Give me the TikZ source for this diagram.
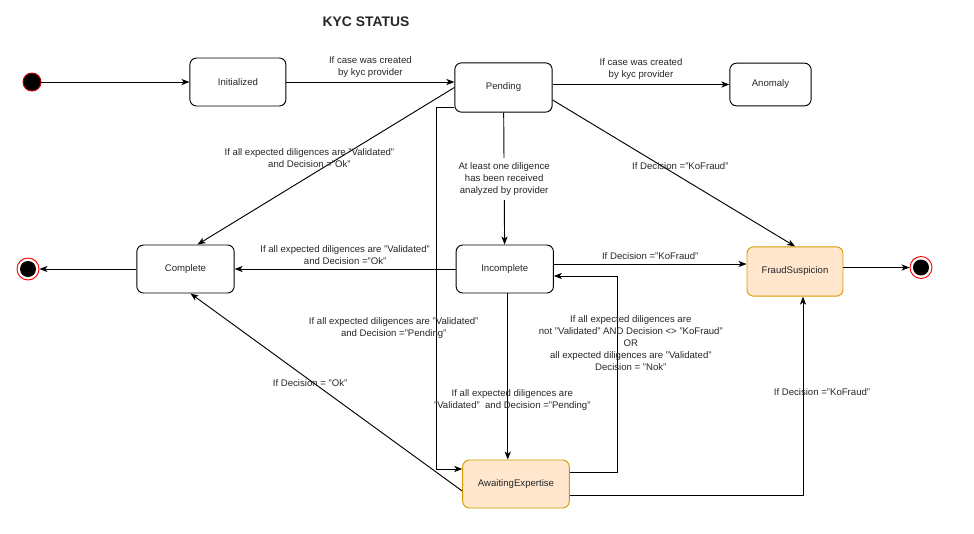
\documentclass[tikz,border=0pt]{standalone}
\usepackage{fontspec}
\setmainfont{Liberation Sans}
\usepackage{tikz}
\usetikzlibrary{arrows,arrows.meta,calc,positioning,shapes}
\definecolor{fraudfill}{HTML}{FFE6CC}
\definecolor{fraudline}{HTML}{D79B00}
\definecolor{textgray}{HTML}{262626}

\begin{document}
\begin{tikzpicture}[>={Stealth[length=6pt,width=4.6pt,inset=1.6pt]},x=0.75pt,y=-0.75pt,line width=0.7pt,font=\fontsize{7.2}{9}\selectfont,text=textgray]
	\tikzstyle{state} = [draw, rectangle, rounded corners=5pt, minimum height=36pt, minimum width=72pt]
	\tikzstyle{fraudstate} = [state, fill=fraudfill, draw=fraudline]
	\tikzstyle{startstate} = [draw=red!75!black, fill=black, circle, minimum size=13.5pt, inner sep=0pt]
	\tikzstyle{finalstate} = [draw=red, fill=white, circle, minimum size=16.5pt, inner sep=0pt, path picture={\fill[black] (path picture bounding box.center) circle (6pt);}]

	\useasboundingbox (0,0) rectangle (974,533);

	\node [font=\bfseries\fontsize{10.4}{12}\selectfont] (title) at (366,22) {KYC STATUS};

	\node [startstate] (start) at (32,82) {};
	\node [state, right = 111pt of start] (init) {Initialized};
	\node [state, minimum width=73pt, minimum height=37pt] (pend) at (503.5,87.5) {Pending};
	\node [state, minimum width=61pt, minimum height=32pt] (anom) at (770.5,84.5) {Anomaly};
	\node [state, minimum width=73pt] (compl) at (185.5,269) {Complete};
	\node [state, minimum width=73pt, right = 165.75pt of compl] (incompl) {Incomplete};
	\node [fraudstate, minimum height=37pt] (fraud) at (795,271.5) {FraudSuspicion};
	\node [fraudstate, minimum width=80pt] (await) at (516,484) {AwaitingExpertise};
	\node [finalstate] (endl) at (28,269) {};
	\node [finalstate] (endr) at (921,267.5) {};

	\draw [->] (start) -- (init);
	\draw [->] (init) --node[above, align=center]{If case was created\\by kyc provider} (init -| pend.west);
	\draw [->] (pend.east |- anom) --node[above, align=center]{If case was created\\by kyc provider} (anom);
	\draw [->] (pend.west) --node[pos=0.45, xshift=-22pt, align=center]{If all expected diligences are "Validated"\\and Decision ="Ok"} ([xshift=9pt]compl.north);
	\draw [->] ([yshift=-9.4pt]pend.east) --node[pos=0.45, xshift=14pt]{If Decision ="KoFraud"} (fraud.north);
	\draw [->] (pend) --node[fill=white, align=center]{At least one diligence\\has been received\\analyzed by provider} (incompl);
	\draw [->] ([yshift=-14.6pt]pend.west) -- ++(-18,0) |- node[pos=0.305, xshift=-32pt, align=center]{If all expected diligences are "Validated"\\and Decision ="Pending"} ([yshift=11.25pt]await.west);
	\draw [->] (incompl) --node[above, align=center]{If all expected diligences are "Validated"\\and Decision ="Ok"} (compl);
	\draw [->] ([yshift=3.75pt]incompl.east) --node[above]{If Decision ="KoFraud"} ([yshift=3.75pt]incompl.east -| fraud.west);
	\draw [->] ([xshift=2.25pt]incompl.south) --node[pos=0.64, xshift=3.4pt, align=center]{If all expected diligences are\\"Validated"\ \ and Decision ="Pending"} ([xshift=2.25pt]incompl.south |- await.north);
	\draw [->] ([yshift=9pt]await.east) -- ++(48,0) |- node[pos=0.33, xshift=9.75pt, align=center]{If all expected diligences are\\not "Validated" AND Decision <> "KoFraud"\\OR\\all expected diligences are "Validated"\\Decision = "Nok"} ([yshift=-5.25pt]incompl.east);
	\draw [->] ([yshift=-8.25pt]await.east) -| node[pos=0.76, xshift=14.25pt]{If Decision ="KoFraud"} ([xshift=6pt]fraud.south);
	\draw [->] ([yshift=-5.25pt]await.west) --node[pos=0.545, xshift=-3pt]{If Decision = "Ok"} ([xshift=3.75pt]compl.south);
	\draw [->] (compl) -- (endl);
	\draw [->] (endr.west -| fraud.east) -- (endr.west);

\end{tikzpicture}
\end{document}
